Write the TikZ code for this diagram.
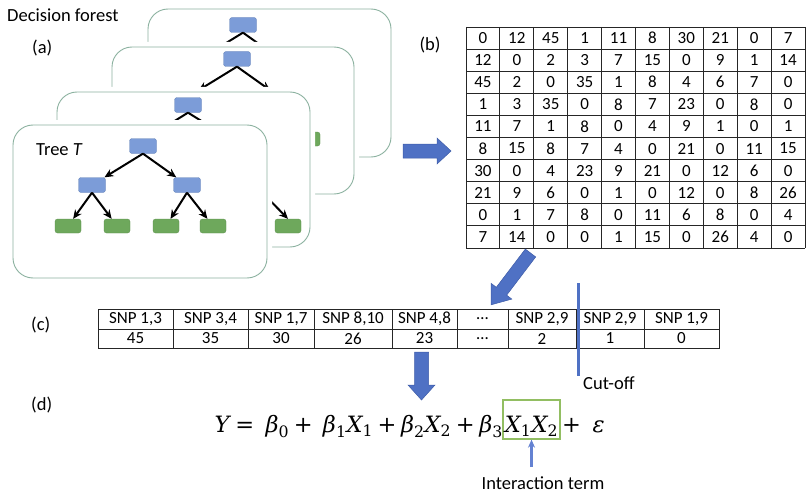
\documentclass[tikz,border=0pt]{standalone}
\usepackage{amsmath}
\usepackage{fontspec}
\setmainfont{Carlito}
\newfontfamily\eqfont{DejaVu Serif}
\usetikzlibrary{arrows.meta}
\definecolor{cardline}{RGB}{140,178,160}
\definecolor{nodeblue}{RGB}{124,156,216}
\definecolor{leafgreen}{RGB}{110,168,92}
\definecolor{arrowblue}{RGB}{79,113,196}
\definecolor{arrowedge}{RGB}{62,92,168}
\definecolor{boxgreen}{RGB}{146,190,98}
\definecolor{thinblue}{RGB}{100,130,210}

% letters and signs of the model, set in the serif text face
\newcommand{\vi}[1]{\text{\eqfont\itshape #1}}
\newcommand{\vr}[1]{\text{\eqfont #1}}
\newcommand{\eqop}{\mathbin{\vr{+}}}

\tikzset{
  card/.style={draw=cardline, line width=0.9pt, fill=white, rounded corners=20pt,
    preaction={draw=white, line width=10pt}},
  inode/.style={draw=nodeblue!85!black, line width=0.3pt, fill=nodeblue,
    rounded corners=2.5pt, minimum width=27pt, minimum height=15pt, inner sep=0pt},
  leaf/.style={draw=leafgreen!85!black, line width=0.3pt, fill=leafgreen,
    rounded corners=2.5pt, minimum width=26pt, minimum height=14pt, inner sep=0pt},
  edge/.style={-{Stealth[length=9pt,width=8pt]}, line width=2pt, black},
  lab/.style={font=\fontsize{18.5}{21}\selectfont, inner sep=0pt},
  cell/.style={font=\fontsize{17}{19}\selectfont, inner sep=0pt},
  grid/.style={line width=0.9pt, black!85},
  blockarrow/.style={fill=arrowblue, draw=arrowedge, line width=0.5pt},
  eqn/.style={font=\fontsize{22.5}{26}\selectfont, inner sep=0pt},
  dtree/.pic={
    \node[inode] (-r) at (0,0) {};
    \node[inode] (-a) at (-51,39) {};
    \node[inode] (-b) at (44,39) {};
    \node[leaf] (-l1) at (-75,80) {};
    \node[leaf] (-l2) at (-26,80) {};
    \node[leaf] (-l3) at (23,80) {};
    \node[leaf] (-l4) at (70,80) {};
    \draw[edge] (-r.south) -- (-a);
    \draw[edge] (-r.south) -- (-b);
    \draw[edge] (-a.south) -- (-l1);
    \draw[edge] (-a.south) -- (-l2);
    \draw[edge] (-b.south) -- (-l3);
    \draw[edge] (-b.south) -- (-l4);
  }
}

\begin{document}
\begin{tikzpicture}[x=1pt,y=-1pt]
\useasboundingbox (0,0) rectangle (806,495);

% ---- (a) stack of trees, back to front ----
\node[lab, anchor=west] (title) at (7,15) {Decision forest};
\node[lab, anchor=west] (la) at (32,48) {(a)};

\draw[card] (148,9) rectangle (391,157);
\pic (t4) at (243,25) {dtree};

\draw[card] (112,47) rectangle (354,194);
\pic (t3) at (237,59) {dtree};

\draw[card] (57,92) rectangle (310,247);
\node[inode] (t2r) at (188,105) {};
\coordinate (t2a) at (136,145);
\coordinate (t2b) at (240,145);
\coordinate (t2c) at (250,180);
\node[leaf] (t2l) at (288,226) {};
\draw[edge] (t2r.south) -- (t2a);
\draw[edge] (t2r.south) -- (t2b);
\draw[edge] (t2c) -- (t2l.north);

\draw[card] (13,125) rectangle (267,278);
\pic (t1) at (143,146) {dtree};
\node[lab, anchor=west] (treeT) at (36,150) {Tree \textit{T}};

% ---- arrow to the pair matrix ----
\begin{scope}[shift={(403,151)}]
  \draw[blockarrow] (0,-7) -- (34,-7) -- (34,-13) -- (48,0) -- (34,13) -- (34,7) -- (0,7) -- cycle;
\end{scope}

% ---- (b) pair count matrix ----
\node[lab] (lb) at (430,45) {(b)};
\foreach \i in {0,...,10} {
  \draw[grid] ({466+\i*33.9},27) -- ({466+\i*33.9},248);
  \draw[grid] (466,{27+\i*22.1}) -- (805,{27+\i*22.1});
}
\foreach \row [count=\r] in {
  {0,12,45,1,11,8,30,21,0,7},
  {12,0,2,3,7,15,0,9,1,14},
  {45,2,0,35,1,8,4,6,7,0},
  {1,3,35,0,8,7,23,0,8,0},
  {11,7,1,8,0,4,9,1,0,1},
  {8,15,8,7,4,0,21,0,11,15},
  {30,0,4,23,9,21,0,12,6,0},
  {21,9,6,0,1,0,12,0,8,26},
  {0,1,7,8,0,11,6,8,0,4},
  {7,14,0,0,1,15,0,26,4,0}} {
  \foreach \v [count=\c] in \row {
    \node[cell] (m-\r-\c) at ({466+(\c-0.5)*33.9},{27+(\r-0.5)*22.1}) {\v};
  }
}

% ---- arrow from matrix to ranked list ----
\begin{scope}[shift={(530.5,253)}, rotate=-127.2]
  \draw[blockarrow] (0,-6.5) -- (48,-6.5) -- (48,-13) -- (65,0) -- (48,13) -- (48,6.5) -- (0,6.5) -- cycle;
\end{scope}

% ---- (c) ranked SNP pairs ----
\node[lab, anchor=west] (lc) at (31,325) {(c)};
\draw[grid] (98,309) rectangle (719,348);
\draw[grid] (98,329) -- (719,329);
\foreach \xa/\xb/\h/\v [count=\c] in {
  98/173/{SNP 1,3}/45, 173/248/{SNP 3,4}/35, 248/314/{SNP 1,7}/30,
  314/392/{SNP 8,10}/26, 392/457/{SNP 4,8}/23, 457/508/{\ldots}/{\ldots},
  508/576/{SNP 2,9}/2, 576/644/{SNP 2,9}/1, 644/719/{SNP 1,9}/0} {
  \draw[grid] (\xb,309) -- (\xb,348);
  \node[cell] (h\c) at ({(\xa+\xb)/2},319) {\h};
  \node[cell] (v\c) at ({(\xa+\xb)/2},338.5) {\v};
}

% cut-off marker
\coordinate (cutTop) at (578,283);
\coordinate (cutBot) at (578,376);
\draw[arrowblue, line width=3pt] (cutTop) -- (cutBot);
\node[lab, anchor=west] (cutlab) at (583,383) {Cut-off};

% ---- arrow down to the model ----
\draw[blockarrow] (414.5,352) -- (428.5,352) -- (428.5,385) -- (435,385) -- (421.5,400)
  -- (408,385) -- (414.5,385) -- cycle;

% ---- (d) regression model ----
\node[lab, anchor=west] (ld) at (31,405) {(d)};
\node[draw=boxgreen, line width=1.3pt, eqn, anchor=base, minimum width=57pt,
  text height=32pt, text depth=7pt, inner xsep=1pt] (term) at (531.5,432)
  {$\vi{X}_{\vr{1}}\vi{X}_{\vr{2}}$};
\node[eqn, anchor=base east] (eqL) at (503,432)
  {$\vi{Y} \mathrel{\vr{=}}\;\vi{β}_{\vr{0}} \eqop\;\vi{β}_{\vr{1}}\vi{X}_{\vr{1}}
    \eqop \vi{β}_{\vr{2}}\vi{X}_{\vr{2}} \eqop \vi{β}_{\vr{3}}$};
\node[eqn, anchor=base west] (eqR) at (562,432) {$\vr{+}\;\;\vi{ε}$};

\coordinate (itail) at (531.5,467);
\draw[thinblue, line width=2.5pt, -{Stealth[length=8pt,width=7pt]}] (itail) -- (term.south);
\node[lab] (itlab) at (543,483) {Interaction term};
\end{tikzpicture}
\end{document}
